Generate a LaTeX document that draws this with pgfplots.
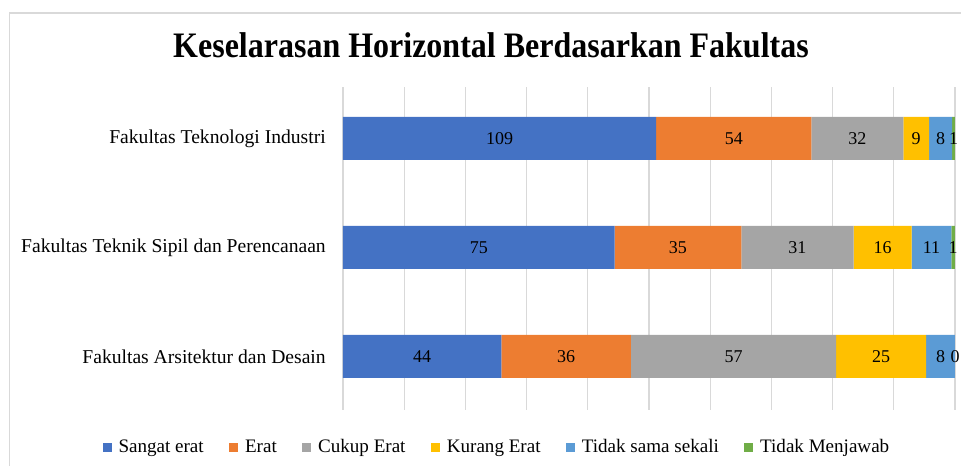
\documentclass[border=0pt]{standalone}
\usepackage{fontspec}
\setmainfont{Liberation Serif}
\usepackage{graphicx}
\usepackage{pgfplots}
\usepackage{pgfplotstable}
\pgfplotsset{compat=1.18}
\definecolor{c1}{HTML}{4472C4}
\definecolor{c2}{HTML}{ED7D31}
\definecolor{c3}{HTML}{A5A5A5}
\definecolor{c4}{HTML}{FFC000}
\definecolor{c5}{HTML}{5B9BD5}
\definecolor{c6}{HTML}{70AD47}
\definecolor{gridgray}{HTML}{D9D9D9}
\pgfplotstableread{
idx s1 s2 s3 s4 s5 s6 total
0 44 36 57 25 8 0 170
1 75 35 31 16 11 1 169
2 109 54 32 9 8 1 213
}\datatable
\pgfplotsset{
  common/.style={
    scale only axis, width=459pt, height=242.25pt,
    xmin=0, xmax=100, ymin=-0.491, ymax=2.472,
  },
  lbl/.style={draw=none, mark=none, point meta=explicit,
    nodes near coords={\pgfmathprintnumber[assume math mode=true]{\pgfplotspointmeta}},
    every node near coord/.append style={font=\fontsize{13.5}{15}\selectfont, text=black, anchor=center, inner sep=0pt}},
}
\begin{document}
\begin{tikzpicture}
\begin{axis}[
  common,
  xbar stacked,
  bar width=0.394,
  xtick={0,10,...,100}, xticklabels={},
  xmajorgrids, grid style={draw=gridgray, line width=0.9pt},
  major tick length=0,
  ytick={0,1,2},
  yticklabels={Fakultas Arsitektur dan Desain, Fakultas Teknik Sipil dan Perencanaan, Fakultas Teknologi Industri},
  yticklabel style={font=\fontsize{14.7}{17}\selectfont, inner sep=0pt, xshift=-12.75pt},
  axis line style={draw=none},
  legend columns=6,
  legend image code/.code={\fill[#1] (0pt,-3.4pt) rectangle (6.75pt,3.4pt);},
  legend style={at={(axis description cs:0.252,-0.115)}, anchor=center, draw=none, fill=none,
    font=\fontsize{14.3}{16}\selectfont, inner sep=0pt,
    /tikz/every even column/.append style={column sep=17pt},
    /tikz/every odd column/.append style={column sep=3.25pt}},
]
\addplot[fill=c1, draw=none] table[x expr=\thisrow{s1}/\thisrow{total}*100, y=idx] {\datatable};
\addplot[fill=c2, draw=none] table[x expr=\thisrow{s2}/\thisrow{total}*100, y=idx] {\datatable};
\addplot[fill=c3, draw=none] table[x expr=\thisrow{s3}/\thisrow{total}*100, y=idx] {\datatable};
\addplot[fill=c4, draw=none] table[x expr=\thisrow{s4}/\thisrow{total}*100, y=idx] {\datatable};
\addplot[fill=c5, draw=none] table[x expr=\thisrow{s5}/\thisrow{total}*100, y=idx] {\datatable};
\addplot[fill=c6, draw=none] table[x expr=\thisrow{s6}/\thisrow{total}*100, y=idx] {\datatable};
\legend{Sangat erat, Erat, Cukup Erat, Kurang Erat, Tidak sama sekali, Tidak Menjawab}
\coordinate (ll) at (rel axis cs:0,0);
\coordinate (tl) at (rel axis cs:0,1);
\coordinate (ur) at (rel axis cs:1,1);
\end{axis}
\begin{axis}[common, hide axis]
\addplot[lbl] table[x expr=(\thisrow{s1}/2)/\thisrow{total}*100, y=idx, meta=s1] {\datatable};
\addplot[lbl] table[x expr=(\thisrow{s1}+\thisrow{s2}/2)/\thisrow{total}*100, y=idx, meta=s2] {\datatable};
\addplot[lbl] table[x expr=(\thisrow{s1}+\thisrow{s2}+\thisrow{s3}/2)/\thisrow{total}*100, y=idx, meta=s3] {\datatable};
\addplot[lbl] table[x expr=(\thisrow{s1}+\thisrow{s2}+\thisrow{s3}+\thisrow{s4}/2)/\thisrow{total}*100, y=idx, meta=s4] {\datatable};
\addplot[lbl] table[x expr=(\thisrow{s1}+\thisrow{s2}+\thisrow{s3}+\thisrow{s4}+\thisrow{s5}/2)/\thisrow{total}*100, y=idx, meta=s5] {\datatable};
\addplot[lbl] table[x expr=(\thisrow{s1}+\thisrow{s2}+\thisrow{s3}+\thisrow{s4}+\thisrow{s5}+\thisrow{s6}/2)/\thisrow{total}*100, y=idx, meta=s6] {\datatable};
\end{axis}
\pgfresetboundingbox
\path[use as bounding box] ([xshift=-257.25pt,yshift=-42pt]ll) rectangle ([xshift=4.5pt,yshift=65.25pt]ur);
\draw[gridgray, line width=1pt] ([xshift=-250.1pt,yshift=-42pt]ll) -- ([xshift=-250.1pt,yshift=55.5pt]tl) -- ([xshift=4.5pt,yshift=55.5pt]ur);
\node[anchor=base, inner sep=0pt, font=\bfseries\fontsize{24}{28}\selectfont] at ([xshift=111pt,yshift=21.75pt]tl) {\scalebox{1}[1.12]{Keselarasan Horizontal Berdasarkan Fakultas}};
\end{tikzpicture}
\end{document}
